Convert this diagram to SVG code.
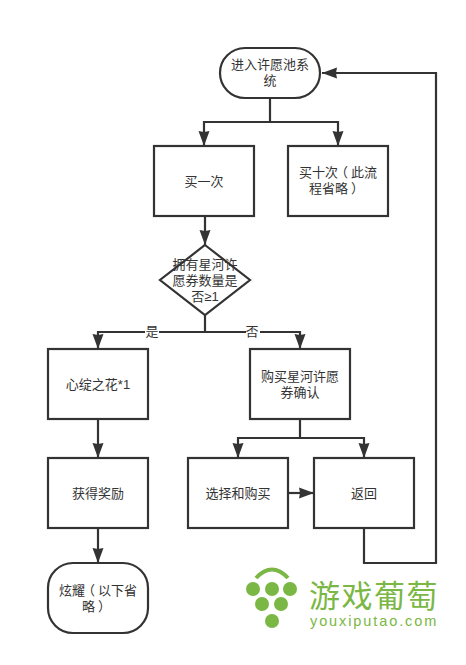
<svg xmlns="http://www.w3.org/2000/svg" width="466" height="665" viewBox="0 0 466 665">
<style>
.n{fill:#fff;stroke:#333;stroke-width:2.2}
.c{fill:none;stroke:#333;stroke-width:2.2}
text{font-family:"Noto Sans CJK SC","Noto Sans",sans-serif;font-size:13px;fill:#333;text-anchor:middle}
.d{font-family:"Liberation Sans",sans-serif}
.g{fill:#7ab744}
.l{fill:#7ab744;text-anchor:start}
</style>
<defs>
<marker id="a" markerUnits="userSpaceOnUse" markerWidth="16" markerHeight="12" refX="15" refY="6" orient="auto"><path d="M0 0.500L15 6L0 11.500L1 6Z" fill="#333"/></marker>
</defs>
<rect width="466" height="665" fill="#fff"/>
<g id="connectors">
<path class="c" d="M270 98V122H204V146" marker-end="url(#a)"/>
<path class="c" d="M270 122H338V146" marker-end="url(#a)"/>
<path class="c" d="M205 216V245" marker-end="url(#a)"/>
<path class="c" d="M205 315V332H98V349" marker-end="url(#a)"/>
<path class="c" d="M205 332H300V349" marker-end="url(#a)"/>
<path class="c" d="M98 419V458" marker-end="url(#a)"/>
<path class="c" d="M98 528V563" marker-end="url(#a)"/>
<path class="c" d="M300 419V438H238V458" marker-end="url(#a)"/>
<path class="c" d="M300 438H364V458" marker-end="url(#a)"/>
<path class="c" d="M288 493H314" marker-end="url(#a)"/>
<path class="c" d="M364 528V563H436V73H322" marker-end="url(#a)"/>
<rect x="145" y="326" width="14" height="13" fill="#fff"/>
<text x="152" y="336">是</text>
<rect x="246" y="326" width="14" height="13" fill="#fff"/>
<text x="252" y="336">否</text>
</g>
<g id="start"><rect class="n" x="220" y="48" width="100" height="50" rx="25"/><text x="270" y="69">进入许愿池系</text><text x="270" y="85">统</text></g>
<g id="buy1"><rect class="n" x="154" y="146" width="100" height="70"/><text x="204" y="186">买一次</text></g>
<g id="buy10"><rect class="n" x="288" y="146" width="100" height="70"/><text x="338" y="177">买十次<tspan dx="-3">（</tspan><tspan dx="3">此流</tspan></text><text x="336.500" y="193">程省略<tspan dx="3">）</tspan></text></g>
<g id="check"><path class="n" d="M205 245L250 280L205 315L160 280Z"/><text x="205" y="269">拥有星河许</text><text x="205" y="285">愿券数量是</text><text x="205" y="301">否<tspan class="d">≥1</tspan></text></g>
<g id="flower"><rect class="n" x="48" y="349" width="100" height="70"/><text x="98" y="389">心绽之花<tspan class="d">*1</tspan></text></g>
<g id="confirm"><rect class="n" x="250" y="349" width="100" height="70"/><text x="300" y="381">购买星河许愿</text><text x="300" y="397">券确认</text></g>
<g id="reward"><rect class="n" x="48" y="458" width="100" height="70"/><text x="98" y="498">获得奖励</text></g>
<g id="select"><rect class="n" x="188" y="458" width="100" height="70"/><text x="238" y="498">选择和购买</text></g>
<g id="back"><rect class="n" x="314" y="458" width="100" height="70"/><text x="364" y="498">返回</text></g>
<g id="show"><rect class="n" x="48" y="563" width="100" height="70" rx="25"/><text x="98" y="595">炫耀<tspan dx="-3">（</tspan><tspan dx="3">以下省</tspan></text><text x="96.500" y="611">略<tspan dx="3">）</tspan></text></g>
<g id="logo">
<path d="M256 578Q272 561 288 578" fill="none" stroke="#7ab744" stroke-width="4"/>
<circle class="g" cx="253" cy="589" r="7"/><circle class="g" cx="272" cy="589" r="7"/><circle class="g" cx="290" cy="589" r="7"/>
<circle class="g" cx="262" cy="604" r="7"/><circle class="g" cx="281" cy="604" r="7"/><circle class="g" cx="272" cy="621" r="7"/>
<text class="l" x="309" y="607" style="font-size:31px;letter-spacing:1.500px">游戏葡萄</text>
<text class="l" x="310" y="626" style="font-size:14.500px;letter-spacing:1.900px;font-family:'Liberation Sans',sans-serif">youxiputao.com</text>
</g>
</svg>
